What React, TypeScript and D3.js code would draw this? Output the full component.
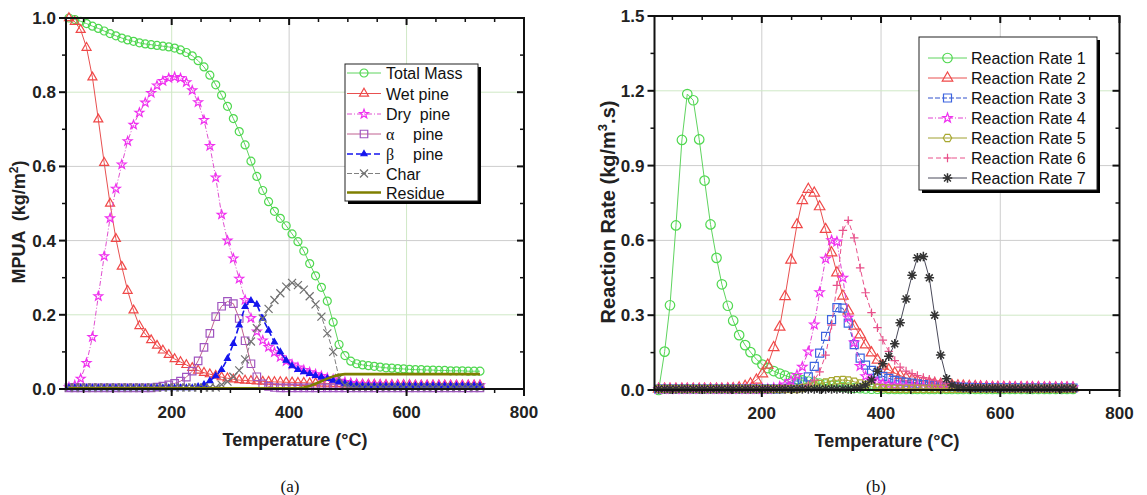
import React from "react";
import * as d3 from "d3";

// ---------------- DATA ----------------
// (a) temperatures (°C) of the mass series
const tempA = [25,35,45,55,65,75,85,95,105,115,125,135,145,155,165,175,185,195,205,215,225,235,245,255,265,275,285,295,305,315,325,335,345,355,365,375,385,395,405,415,425,435,445,455,465,475,485,495,505,515,525,535,545,555,565,575,585,595,605,615,625,635,645,655,665,675,685,695,705,715,725];

const totalMass = [1.000,0.996,0.991,0.985,0.978,0.972,0.965,0.958,0.952,0.946,0.941,0.937,0.933,0.930,0.928,0.926,0.924,0.922,0.919,0.914,0.907,0.898,0.885,0.868,0.846,0.820,0.792,0.762,0.729,0.694,0.658,0.614,0.573,0.535,0.505,0.479,0.460,0.440,0.418,0.397,0.372,0.338,0.305,0.274,0.237,0.180,0.120,0.090,0.075,0.068,0.065,0.063,0.061,0.059,0.057,0.056,0.055,0.054,0.053,0.052,0.052,0.051,0.051,0.050,0.050,0.049,0.049,0.049,0.048,0.048,0.048];

const wetPine = [1.000,0.990,0.968,0.920,0.840,0.727,0.610,0.500,0.405,0.330,0.265,0.212,0.170,0.148,0.132,0.117,0.104,0.092,0.081,0.073,0.065,0.057,0.050,0.044,0.040,0.036,0.032,0.029,0.026,0.024,0.023,0.022,0.021,0.020,0.020,0.019,0.019,0.018,0.018,0.017,0.017,0.016,0.016,0.015,0.015,0.014,0.014,0.013,0.013,0.012,0.012,0.012,0.012,0.011,0.011,0.011,0.011,0.011,0.011,0.010,0.010,0.010,0.010,0.010,0.010,0.010,0.010,0.010,0.010,0.010,0.010];

const dryPine = [0.005,0.010,0.028,0.070,0.140,0.250,0.358,0.460,0.540,0.605,0.668,0.712,0.745,0.772,0.798,0.818,0.830,0.838,0.841,0.838,0.827,0.805,0.773,0.725,0.655,0.570,0.470,0.400,0.352,0.297,0.240,0.191,0.155,0.131,0.113,0.099,0.086,0.075,0.066,0.058,0.051,0.045,0.040,0.035,0.030,0.026,0.022,0.019,0.016,0.014,0.013,0.012,0.012,0.012,0.011,0.011,0.011,0.011,0.011,0.010,0.010,0.010,0.010,0.010,0.010,0.010,0.010,0.010,0.010,0.010,0.010];

const alphaPine = [0.003,0.003,0.003,0.003,0.003,0.003,0.003,0.003,0.003,0.003,0.003,0.003,0.003,0.003,0.003,0.005,0.008,0.011,0.015,0.021,0.032,0.048,0.076,0.112,0.150,0.195,0.223,0.236,0.230,0.190,0.130,0.068,0.033,0.014,0.007,0.004,0.003,0.003,0.003,0.003,0.003,0.003,0.003,0.003,0.003,0.003,0.003,0.003,0.003,0.003,0.003,0.003,0.003,0.003,0.003,0.003,0.003,0.003,0.003,0.003,0.003,0.003,0.003,0.003,0.003,0.003,0.003,0.003,0.003,0.003,0.003];

const betaPine = [0.003,0.003,0.003,0.003,0.003,0.003,0.003,0.003,0.003,0.003,0.003,0.003,0.003,0.003,0.003,0.003,0.003,0.003,0.003,0.003,0.003,0.003,0.006,0.012,0.022,0.035,0.052,0.082,0.122,0.172,0.222,0.238,0.228,0.190,0.158,0.126,0.100,0.077,0.062,0.052,0.046,0.041,0.036,0.032,0.028,0.023,0.019,0.015,0.012,0.010,0.008,0.008,0.008,0.008,0.008,0.008,0.008,0.008,0.008,0.008,0.008,0.008,0.008,0.008,0.008,0.008,0.008,0.008,0.008,0.008,0.008];

const charMass = [0.004,0.004,0.004,0.004,0.004,0.004,0.004,0.004,0.004,0.004,0.004,0.004,0.004,0.004,0.004,0.004,0.004,0.004,0.004,0.004,0.004,0.004,0.004,0.004,0.004,0.004,0.012,0.020,0.033,0.050,0.080,0.128,0.164,0.190,0.216,0.240,0.258,0.276,0.286,0.280,0.268,0.250,0.228,0.195,0.150,0.100,0.030,0.010,0.005,0.005,0.005,0.005,0.005,0.005,0.005,0.005,0.005,0.005,0.005,0.005,0.005,0.005,0.005,0.005,0.005,0.005,0.005,0.005,0.005,0.005,0.005];

const residue = [0.002,0.002,0.002,0.002,0.002,0.002,0.002,0.002,0.002,0.002,0.002,0.002,0.002,0.002,0.002,0.002,0.002,0.002,0.002,0.002,0.002,0.002,0.002,0.002,0.002,0.002,0.002,0.002,0.002,0.002,0.002,0.002,0.002,0.002,0.002,0.002,0.002,0.002,0.002,0.002,0.004,0.008,0.014,0.021,0.028,0.034,0.038,0.040,0.040,0.040,0.040,0.040,0.040,0.040,0.040,0.040,0.040,0.040,0.040,0.040,0.040,0.040,0.040,0.040,0.040,0.040,0.040,0.040,0.040,0.040,0.040];

// (b) temperatures (°C) of the reaction-rate series
const tempB = [27,37,46,56,66,75,85,95,104,114,124,133,143,152,162,172,181,191,201,210,220,230,239,249,259,268,278,288,297,307,317,326,336,345,355,365,374,384,394,403,413,423,432,442,452,461,471,481,490,500,510,519,529,538,548,558,567,577,587,596,606,616,625,635,645,654,664,674,683,693,703,712,722];

const rate1 = [0.000,0.154,0.340,0.660,1.003,1.187,1.162,1.005,0.840,0.664,0.530,0.424,0.338,0.278,0.220,0.180,0.152,0.123,0.102,0.088,0.076,0.066,0.058,0.050,0.044,0.039,0.034,0.030,0.026,0.022,0.018,0.015,0.012,0.010,0.008,0.007,0.006,0.005,0.005,0.005,0.004,0.004,0.004,0.004,0.004,0.004,0.004,0.004,0.004,0.004,0.004,0.004,0.004,0.004,0.004,0.004,0.004,0.004,0.004,0.004,0.004,0.004,0.004,0.004,0.004,0.004,0.004,0.004,0.004,0.004,0.004,0.004,0.004];

const rate2 = [0.004,0.004,0.004,0.004,0.004,0.004,0.004,0.004,0.004,0.004,0.004,0.004,0.005,0.006,0.009,0.015,0.025,0.040,0.065,0.100,0.170,0.252,0.375,0.521,0.663,0.760,0.805,0.790,0.735,0.644,0.550,0.470,0.377,0.317,0.256,0.221,0.181,0.149,0.120,0.096,0.081,0.068,0.058,0.049,0.042,0.037,0.033,0.029,0.026,0.023,0.021,0.019,0.017,0.016,0.015,0.014,0.013,0.012,0.011,0.011,0.011,0.010,0.010,0.010,0.010,0.010,0.010,0.009,0.009,0.009,0.009,0.009,0.009];

const rate3 = [0.004,0.004,0.004,0.004,0.004,0.004,0.004,0.004,0.004,0.004,0.004,0.004,0.004,0.004,0.004,0.004,0.004,0.004,0.004,0.004,0.004,0.004,0.007,0.012,0.020,0.032,0.053,0.095,0.148,0.215,0.282,0.330,0.328,0.268,0.182,0.128,0.100,0.079,0.068,0.055,0.047,0.039,0.035,0.031,0.028,0.025,0.022,0.020,0.018,0.016,0.014,0.013,0.012,0.011,0.011,0.010,0.010,0.010,0.009,0.009,0.009,0.009,0.009,0.008,0.008,0.008,0.008,0.008,0.008,0.008,0.008,0.008,0.008];

const rate4 = [0.004,0.004,0.004,0.004,0.004,0.004,0.004,0.004,0.004,0.004,0.004,0.004,0.004,0.004,0.004,0.004,0.004,0.004,0.004,0.004,0.008,0.013,0.022,0.036,0.060,0.093,0.154,0.262,0.392,0.526,0.600,0.595,0.450,0.290,0.190,0.096,0.055,0.041,0.032,0.026,0.022,0.019,0.017,0.015,0.014,0.013,0.013,0.012,0.012,0.012,0.011,0.011,0.011,0.011,0.011,0.011,0.011,0.011,0.010,0.010,0.010,0.010,0.010,0.010,0.010,0.010,0.010,0.010,0.010,0.010,0.010,0.010,0.010];

const rate5 = [0.004,0.004,0.004,0.004,0.004,0.004,0.004,0.004,0.004,0.004,0.004,0.004,0.004,0.004,0.004,0.004,0.004,0.004,0.004,0.004,0.004,0.004,0.004,0.004,0.004,0.008,0.013,0.018,0.024,0.030,0.035,0.039,0.040,0.038,0.033,0.026,0.019,0.013,0.009,0.007,0.005,0.005,0.005,0.005,0.005,0.005,0.005,0.005,0.005,0.005,0.005,0.005,0.005,0.005,0.005,0.005,0.005,0.005,0.005,0.005,0.005,0.005,0.005,0.005,0.005,0.005,0.005,0.005,0.005,0.005,0.005,0.005,0.005];

const rate6 = [0.004,0.004,0.004,0.004,0.004,0.004,0.004,0.004,0.004,0.004,0.004,0.004,0.004,0.004,0.004,0.004,0.004,0.004,0.004,0.004,0.004,0.004,0.004,0.004,0.004,0.010,0.020,0.040,0.073,0.140,0.260,0.420,0.640,0.680,0.610,0.490,0.390,0.310,0.250,0.200,0.155,0.118,0.092,0.076,0.066,0.058,0.050,0.043,0.037,0.032,0.027,0.023,0.020,0.018,0.016,0.015,0.014,0.013,0.012,0.012,0.011,0.011,0.011,0.011,0.011,0.011,0.010,0.010,0.010,0.010,0.010,0.010,0.010];

const rate7 = [0.004,0.004,0.004,0.004,0.004,0.004,0.004,0.004,0.004,0.004,0.004,0.004,0.004,0.004,0.004,0.004,0.004,0.004,0.004,0.004,0.004,0.004,0.004,0.004,0.004,0.004,0.004,0.004,0.004,0.004,0.004,0.004,0.004,0.004,0.006,0.010,0.020,0.040,0.075,0.105,0.135,0.185,0.270,0.365,0.460,0.530,0.535,0.450,0.300,0.140,0.045,0.020,0.012,0.009,0.008,0.008,0.007,0.007,0.007,0.007,0.006,0.006,0.006,0.006,0.006,0.006,0.006,0.006,0.006,0.006,0.006,0.006,0.006];

const xTickLabels = [200, 400, 600, 800];
const yTicksA = [0, 0.2, 0.4, 0.6, 0.8, 1.0];
const yTicksB = [0, 0.3, 0.6, 0.9, 1.2, 1.5];

// ---------------- STYLES / SERIES ----------------
type Marker = "circle" | "triangle" | "triFilled" | "star" | "square" | "x" | "hexagon" | "plus" | "asterisk" | "none";
interface Series {
  name: React.ReactNode;
  values: number[];
  marker: Marker;
  size: number;
  color: string;
  lineColor: string;
  lineWidth: number;
  dash?: string;
}

const seriesA: Series[] = [
  { name: "Total Mass", values: totalMass, marker: "circle", size: 8, color: "#4fd84f", lineColor: "#5fd45f", lineWidth: 1 },
  { name: "Wet pine", values: wetPine, marker: "triangle", size: 9, color: "#f04848", lineColor: "#e85050", lineWidth: 1 },
  { name: "Dry  pine", values: dryPine, marker: "star", size: 8.5, color: "#f030f0", lineColor: "#e050d0", lineWidth: 1, dash: "5,2,1,2" },
  { name: "alpha", values: alphaPine, marker: "square", size: 7.5, color: "#a055c0", lineColor: "#c06090", lineWidth: 1 },
  { name: "beta", values: betaPine, marker: "triFilled", size: 6, color: "#1515ee", lineColor: "#1515ee", lineWidth: 1.6, dash: "6,3" },
  { name: "Char", values: charMass, marker: "x", size: 8, color: "#707070", lineColor: "#808080", lineWidth: 1, dash: "5,2" },
  { name: "Residue", values: residue, marker: "none", size: 0, color: "#808000", lineColor: "#7f7f00", lineWidth: 2.6 },
];

const seriesB: Series[] = [
  { name: "Reaction Rate 1", values: rate1, marker: "circle", size: 9.5, color: "#4fd84f", lineColor: "#5fd45f", lineWidth: 1 },
  { name: "Reaction Rate 2", values: rate2, marker: "triangle", size: 10.5, color: "#f04848", lineColor: "#e85050", lineWidth: 1 },
  { name: "Reaction Rate 3", values: rate3, marker: "square", size: 8, color: "#3c64e0", lineColor: "#3050cc", lineWidth: 1, dash: "5,2" },
  { name: "Reaction Rate 4", values: rate4, marker: "star", size: 9, color: "#f030f0", lineColor: "#e040d0", lineWidth: 1, dash: "5,2,1,2" },
  { name: "Reaction Rate 5", values: rate5, marker: "hexagon", size: 8.5, color: "#a8a830", lineColor: "#a0a030", lineWidth: 1 },
  { name: "Reaction Rate 6", values: rate6, marker: "plus", size: 8.5, color: "#e8508a", lineColor: "#e8508a", lineWidth: 1, dash: "5,3" },
  { name: "Reaction Rate 7", values: rate7, marker: "asterisk", size: 9.5, color: "#333333", lineColor: "#4a4a5a", lineWidth: 1 },
];

const SANS = "'Liberation Sans', Arial, Helvetica, sans-serif";
const SERIF = "'Liberation Serif', 'Times New Roman', serif";

function markerPath(type: Marker, s: number): string {
  const h = s / 2;
  switch (type) {
    case "circle":
      return `M${h},0A${h},${h} 0 1,1 ${-h},0A${h},${h} 0 1,1 ${h},0Z`;
    case "triangle":
    case "triFilled": {
      const ht = (s * Math.sqrt(3)) / 2;
      return `M0,${(-ht * 2) / 3}L${h},${ht / 3}L${-h},${ht / 3}Z`;
    }
    case "square":
      return `M${-h},${-h}H${h}V${h}H${-h}Z`;
    case "star": {
      const pts: string[] = [];
      for (let k = 0; k < 10; k++) {
        const r = k % 2 === 0 ? h * 1.1 : h * 0.45;
        const a = -Math.PI / 2 + (k * Math.PI) / 5;
        pts.push(`${(r * Math.cos(a)).toFixed(2)},${(r * Math.sin(a)).toFixed(2)}`);
      }
      return "M" + pts.join("L") + "Z";
    }
    case "hexagon": {
      const pts: string[] = [];
      for (let k = 0; k < 6; k++) {
        const a = (k * Math.PI) / 3;
        pts.push(`${(h * Math.cos(a)).toFixed(2)},${(h * Math.sin(a)).toFixed(2)}`);
      }
      return "M" + pts.join("L") + "Z";
    }
    case "x":
      return `M${-h},${-h}L${h},${h}M${-h},${h}L${h},${-h}`;
    case "plus":
      return `M${-h},0H${h}M0,${-h}V${h}`;
    case "asterisk": {
      const d = h * 0.72;
      return `M${-h},0H${h}M0,${-h}V${h}M${-d},${-d}L${d},${d}M${-d},${d}L${d},${-d}`;
    }
    default:
      return "";
  }
}

function MarkerShape({ s, x, y }: { s: Series; x: number; y: number }) {
  if (s.marker === "none") return null;
  const filled = s.marker === "triFilled";
  return (
    <path
      d={markerPath(s.marker, s.size)}
      transform={`translate(${x.toFixed(2)},${y.toFixed(2)})`}
      fill={filled ? s.color : "none"}
      stroke={s.color}
      strokeWidth={s.marker === "asterisk" ? 1.5 : 1.2}
    />
  );
}

interface PanelProps {
  temps: number[];
  series: Series[];
  xScale: d3.ScaleLinear<number, number>;
  yScale: d3.ScaleLinear<number, number>;
  yTicks: number[];
  yMinorStep: number;
  yFormat: (v: number) => string;
  yTitle: React.ReactNode;
  yTitlePos: [number, number];
  yTitleSize: number;
  gridX: { v: number; c: string }[];
  gridY: { v: number; c: string }[];
  legend: { x0: number; y0: number; x1: number; y1: number; rowY: number[]; lineX: [number, number]; textX: number };
  renderName: (s: Series) => React.ReactNode;
  caption: string;
  captionX: number;
}

function Panel(p: PanelProps) {
  const [xl, xr] = p.xScale.range();
  const [yb, yt] = p.yScale.range();
  const xMinor = d3.range(50, 800, 50).filter((v) => v % 200 !== 0);
  const yMax = p.yScale.domain()[1];
  const yMinor = d3.range(p.yMinorStep, yMax, p.yMinorStep * 2).map((v) => +v.toFixed(4));
  const line = (vals: number[]) =>
    d3
      .line<number>()
      .x((_, i) => p.xScale(p.temps[i]))
      .y((d) => p.yScale(d))(vals) || "";
  const tickStroke = "#111";
  return (
    <g>
      {p.gridX.map((g) => (
        <line key={"gx" + g.v} x1={p.xScale(g.v)} x2={p.xScale(g.v)} y1={yb} y2={yt} stroke={g.c} strokeWidth={1} />
      ))}
      {p.gridY.map((g) => (
        <line key={"gy" + g.v} x1={xl} x2={xr} y1={p.yScale(g.v)} y2={p.yScale(g.v)} stroke={g.c} strokeWidth={1} />
      ))}
      {p.series.map((s, si) => (
        <g key={"s" + si}>
          <path d={line(s.values)} fill="none" stroke={s.lineColor} strokeWidth={s.lineWidth} strokeDasharray={s.dash} />
          {s.values.map((v, i) => (
            <MarkerShape key={i} s={s} x={p.xScale(p.temps[i])} y={p.yScale(v)} />
          ))}
        </g>
      ))}
      <rect x={xl} y={yt} width={xr - xl} height={yb - yt} fill="none" stroke="#111" strokeWidth={2} />
      {xTickLabels.map((v) => (
        <g key={"xt" + v}>
          <line x1={p.xScale(v)} x2={p.xScale(v)} y1={yb} y2={yb + 7} stroke={tickStroke} strokeWidth={2} />
          <line x1={p.xScale(v)} x2={p.xScale(v)} y1={yt} y2={yt + 7} stroke={tickStroke} strokeWidth={2} />
          <text x={p.xScale(v)} y={yb + 29} textAnchor="middle" fontFamily={SANS} fontWeight="bold" fontSize={17} fill="#222">
            {v}
          </text>
        </g>
      ))}
      {xMinor.map((v) => (
        <g key={"xm" + v}>
          <line x1={p.xScale(v)} x2={p.xScale(v)} y1={yb} y2={yb + 4} stroke={tickStroke} strokeWidth={1.5} />
          <line x1={p.xScale(v)} x2={p.xScale(v)} y1={yt} y2={yt + 4} stroke={tickStroke} strokeWidth={1.5} />
        </g>
      ))}
      {p.yTicks.map((v) => (
        <g key={"yt" + v}>
          <line x1={xl - 7} x2={xl} y1={p.yScale(v)} y2={p.yScale(v)} stroke={tickStroke} strokeWidth={2} />
          <line x1={xr - 7} x2={xr} y1={p.yScale(v)} y2={p.yScale(v)} stroke={tickStroke} strokeWidth={2} />
          <text x={xl - 10} y={p.yScale(v) + 6} textAnchor="end" fontFamily={SANS} fontWeight="bold" fontSize={17} fill="#222">
            {p.yFormat(v)}
          </text>
        </g>
      ))}
      {yMinor.map((v) => (
        <g key={"ym" + v}>
          <line x1={xl - 4} x2={xl} y1={p.yScale(v)} y2={p.yScale(v)} stroke={tickStroke} strokeWidth={1.5} />
          <line x1={xr - 4} x2={xr} y1={p.yScale(v)} y2={p.yScale(v)} stroke={tickStroke} strokeWidth={1.5} />
        </g>
      ))}
      <text x={(xl + xr) / 2} y={yb + 57} textAnchor="middle" fontFamily={SANS} fontWeight="bold" fontSize={18} fill="#222">
        Temperature (°C)
      </text>
      <text
        transform={`translate(${p.yTitlePos[0]},${p.yTitlePos[1]}) rotate(-90)`}
        textAnchor="middle"
        fontFamily={SANS}
        fontWeight="bold"
        fontSize={p.yTitleSize}
        fill="#222"
        style={{ whiteSpace: "pre" }}
      >
        {p.yTitle}
      </text>
      <rect x={p.legend.x0 + 3} y={p.legend.y0 + 3} width={p.legend.x1 - p.legend.x0} height={p.legend.y1 - p.legend.y0} fill="#000" />
      <rect x={p.legend.x0} y={p.legend.y0} width={p.legend.x1 - p.legend.x0} height={p.legend.y1 - p.legend.y0} fill="#fff" stroke="#222" strokeWidth={1} />
      {p.series.map((s, i) => {
        const ry = p.legend.rowY[i];
        const mx = (p.legend.lineX[0] + p.legend.lineX[1]) / 2;
        return (
          <g key={"lg" + i}>
            <line x1={p.legend.lineX[0]} x2={p.legend.lineX[1]} y1={ry} y2={ry} stroke={s.lineColor} strokeWidth={s.lineWidth} strokeDasharray={s.dash} />
            <MarkerShape s={s} x={mx} y={ry} />
            <text x={p.legend.textX} y={ry + 6} fontFamily={SANS} fontSize={16} fill="#111" style={{ whiteSpace: "pre" }}>
              {p.renderName(s)}
            </text>
          </g>
        );
      })}
      <text x={p.captionX} y={492} textAnchor="middle" fontFamily={SERIF} fontSize={17} fill="#111">
        {p.caption}
      </text>
    </g>
  );
}

export default function App() {
  const xA = d3.scaleLinear().domain([20, 800]).range([66, 524]);
  const yA = d3.scaleLinear().domain([0, 1]).range([389, 18]);
  const xB = d3.scaleLinear().domain([20, 800]).range([654.5, 1119.5]);
  const yB = d3.scaleLinear().domain([0, 1.5]).range([390, 16]);
  const green = "#cfe8c6";
  const gray = "#cdcdcd";

  const nameA = (s: Series) => {
    if (s.name === "alpha" || s.name === "beta") {
      return (
        <>
          <tspan fontFamily={SERIF}>{s.name === "alpha" ? "α" : "β"}</tspan>
          <tspan x={413}>pine</tspan>
        </>
      );
    }
    return s.name;
  };

  return (
    <svg
      width={1147}
      height={495}
      viewBox="0 0 1147 495"
      style={{ position: "absolute", left: 0, top: 0, background: "#fff" }}
    >
      <rect x={0} y={0} width={1147} height={495} fill="#fff" />
      <Panel
        temps={tempA}
        series={seriesA}
        xScale={xA}
        yScale={yA}
        yTicks={yTicksA}
        yMinorStep={0.1}
        yFormat={(v) => v.toFixed(1)}
        yTitle={
          <>
            MPUA  (kg/m<tspan dy={-7} fontSize={12}>2</tspan>
            <tspan dy={7}>)</tspan>
          </>
        }
        yTitlePos={[25, 222]}
        yTitleSize={18}
        gridX={[
          { v: 200, c: green },
          { v: 400, c: gray },
          { v: 600, c: green },
        ]}
        gridY={[
          { v: 0.2, c: green },
          { v: 0.4, c: gray },
          { v: 0.6, c: gray },
          { v: 0.8, c: green },
        ]}
        legend={{ x0: 345, y0: 64, x1: 478, y1: 201, rowY: [73, 93.5, 114, 134, 154, 173.5, 192.5], lineX: [347, 381], textX: 386 }}
        renderName={nameA}
        caption="(a)"
        captionX={290}
      />
      <Panel
        temps={tempB}
        series={seriesB}
        xScale={xB}
        yScale={yB}
        yTicks={yTicksB}
        yMinorStep={0.15}
        yFormat={(v) => v.toFixed(1)}
        yTitle={
          <>
            Reaction Rate (kg/m<tspan dy={-8} fontSize={13}>3</tspan>
            <tspan dy={8}>.s)</tspan>
          </>
        }
        yTitlePos={[615, 212]}
        yTitleSize={20}
        gridX={[
          { v: 200, c: gray },
          { v: 400, c: gray },
          { v: 600, c: gray },
        ]}
        gridY={[
          { v: 0.3, c: green },
          { v: 0.6, c: gray },
          { v: 0.9, c: gray },
          { v: 1.2, c: green },
        ]}
        legend={{ x0: 919, y0: 37, x1: 1097, y1: 190, rowY: [58, 78, 98, 118, 138, 158, 178], lineX: [928, 967], textX: 971 }}
        renderName={(s) => s.name}
        caption="(b)"
        captionX={876}
      />
    </svg>
  );
}
